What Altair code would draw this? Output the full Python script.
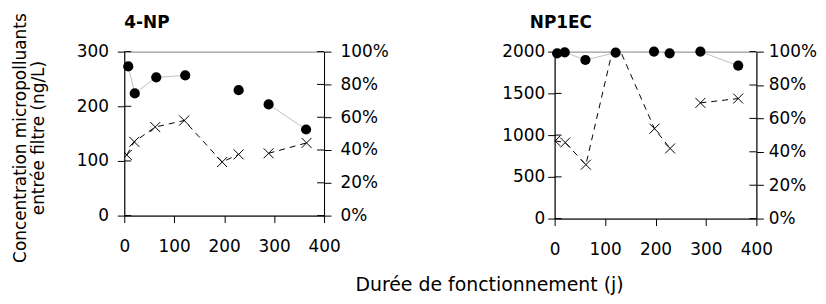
import altair as alt
import pandas as pd

FONT = "DejaVu Sans"

# 4-NP panel
np_conc_days = [5, 20, 62, 120, 196, 229, 260, 289, 365]
np_conc = [111, 135, 162, 174, 98, 112, None, 114, 133]
np_pct_days = [8, 21, 64, 122, 196, 229, 260, 289, 364]
np_pct = [91, 74.5, 84.3, 85.5, None, 76.5, None, 67.8, 52.5]

# NP1EC panel
ec_conc_days = [1, 21, 62, 120, 198, 229, 260, 289, 364]
ec_conc = [931, 911, 646, 2150, 1077, 840, None, 1386, 1438]
ec_pct_days = [5, 20, 61, 121, 197, 228, 260, 289, 364]
ec_pct = [99, 99.6, 95, 99.4, 100, 99, None, 100, 91.6]

x_ticks = [0, 100, 200, 300, 400]
pct_ticks = [0, 20, 40, 60, 80, 100]
y_title = ["Concentration micropolluants", "entrée filtre (ng/L)"]
x_title = "Durée de fonctionnement (j)"

XSHAPE = "M-1,-1L1,1M-1,1L1,-1"


def panel(name, cdays, cvals, pdays, pvals, ymax, ystep, w, h, lpad, rpad, tdx, xt):
    dfc = pd.DataFrame({"day": cdays, "conc": cvals})
    dfp = pd.DataFrame({"day": pdays, "pct": pvals})
    cticks = list(range(0, ymax + 1, ystep))
    # inner halves of the crossing tick marks on both vertical axes
    dfl = pd.DataFrame({"day": [x_ticks[0]] * len(cticks), "conc": cticks})
    dfr = pd.DataFrame({"day": [x_ticks[-1]] * len(pct_ticks), "pct": pct_ticks})
    if xt:
        xax = alt.Axis(values=x_ticks, labelPadding=16, titleX=367, titleY=75,
                       titleAlign="center", titleBaseline="alphabetic",
                       titleFontSize=19)
    else:
        xax = alt.Axis(values=x_ticks, labelPadding=16)
    x = alt.X("day:Q", title=xt if xt else None,
              scale=alt.Scale(domain=[0, 400], nice=False), axis=xax)
    yc = alt.Y("conc:Q", title=None, scale=alt.Scale(domain=[0, ymax], nice=False),
               axis=alt.Axis(orient="left", values=cticks,
                             labelPadding=lpad, format="d"))
    yp = alt.Y("pct:Q", title=None, scale=alt.Scale(domain=[0, 100], nice=False),
               axis=alt.Axis(orient="right", values=pct_ticks,
                             labelExpr="datum.value + '%'", labelPadding=rpad))
    cline = alt.Chart(dfc).mark_line(color="black", strokeDash=[6, 5],
                                     strokeWidth=1, clip=True).encode(x=x, y=yc)
    cpts = alt.Chart(dfc).mark_point(shape=XSHAPE, size=100, filled=False,
                                     color="black", strokeWidth=1, opacity=1,
                                     clip=True).encode(x=x, y=yc)
    ltick = alt.Chart(dfl).mark_tick(orient="horizontal", size=7, thickness=1,
                                     color="black", opacity=1,
                                     xOffset=3.5).encode(x=x, y=yc)
    pline = alt.Chart(dfp).mark_line(color="#c0c0c0", strokeWidth=1).encode(x=x, y=yp)
    ppts = alt.Chart(dfp).mark_circle(color="black", size=105, opacity=1).encode(x=x, y=yp)
    rtick = alt.Chart(dfr).mark_tick(orient="horizontal", size=7, thickness=1,
                                     color="black", opacity=1,
                                     xOffset=-3.5).encode(x=x, y=yp)
    return alt.layer(
        alt.layer(ltick, cline, cpts),
        alt.layer(rtick, pline, ppts),
    ).resolve_scale(y="independent").properties(
        width=w, height=h,
        title=alt.TitleParams(name, anchor="start", frame="group", dx=tdx,
                              fontSize=17, fontWeight="bold", font=FONT,
                              color="black", offset=11),
    )


p1 = panel("4-NP", np_conc_days, np_conc, np_pct_days, np_pct, 300, 100, 201, 165,
           9, 9, 0, x_title)
p2 = panel("NP1EC", ec_conc_days, ec_conc, ec_pct_days, ec_pct, 2000, 500, 203, 168,
           3, 5, -25, None)

chart = alt.hconcat(p1, p2, spacing=232, bounds="flush").properties(
    title=alt.TitleParams(y_title, orient="left", anchor="middle", dx=16,
                          fontSize=17, fontWeight="normal", font=FONT,
                          color="black", offset=28, lineHeight=18),
    padding={"left": 4, "top": 4, "right": 0, "bottom": 0},
).configure_view(stroke="#808080", strokeWidth=1).configure_axis(
    grid=False, domainColor="black", tickColor="black", labelColor="black",
    labelFont=FONT, labelFontSize=17, titleFont=FONT, titleFontSize=16,
    titleFontWeight="normal", titleColor="black", tickSize=7,
    domainWidth=1, tickWidth=1, labelFlush=False,
)

chart.save("out.html", embed_options={"renderer": "svg", "actions": False})
